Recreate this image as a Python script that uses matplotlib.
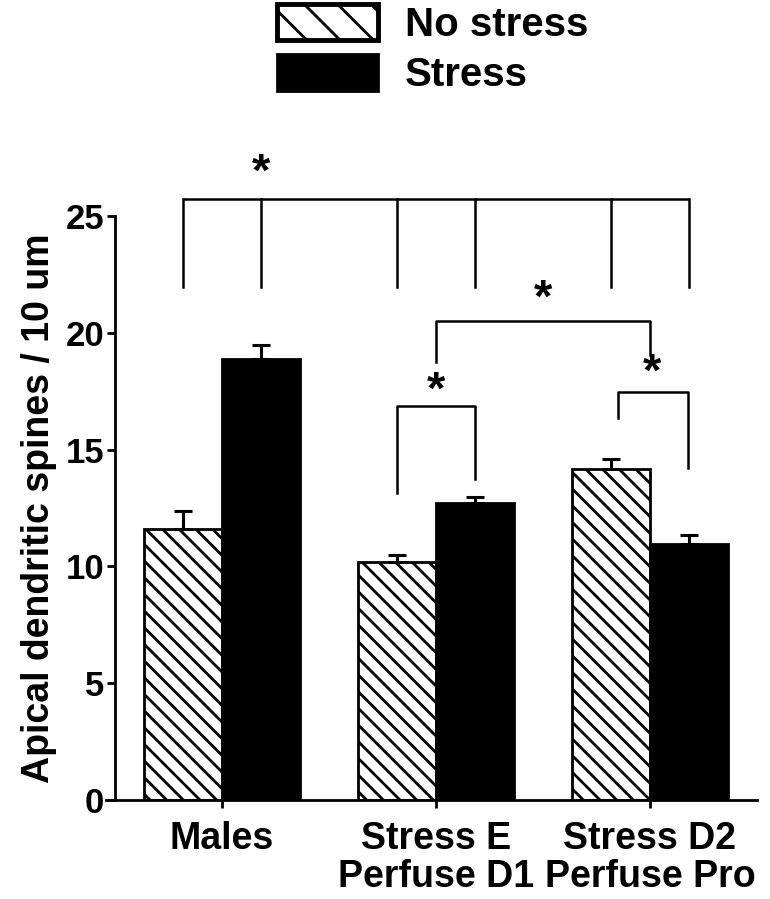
import matplotlib
matplotlib.use("Agg")
import matplotlib.pyplot as plt
from matplotlib.patches import Patch

plt.rcParams['font.family'] = ['Liberation Sans', 'DejaVu Sans']
plt.rcParams['font.weight'] = 'bold'
plt.rcParams['hatch.linewidth'] = 2.0

# ---- data ----
groups = ["Males", "Stress E\nPerfuse D1", "Stress D2\nPerfuse Pro"]
series_labels = ["No stress", "Stress"]
no_stress = [11.6, 10.2, 14.15]
no_stress_err = [0.77, 0.3, 0.45]
stress = [18.88, 12.7, 10.96]
stress_err = [0.6, 0.27, 0.4]
yticks = [0, 5, 10, 15, 20, 25]

# significance brackets: (x_left, x_right, y_top, y_left_end, y_right_end, star_x, star_y)
brackets = [
    (1.0, 2.0, 20.5, 18.75, 19.05, 1.5, 21.4),
    (0.8175, 1.1825, 16.87, 13.14, 13.74, 1.0, 17.5),
    (1.85, 2.18, 17.47, 16.35, 14.21, 2.01, 18.24),
]
# top bracket with legs at every bar centre
top_legs_offsets = [-0.1825, 0.1825]
top_y, top_leg_end = 25.75, 21.95
top_star = (0.1825, 26.8)

w = 0.365

fig = plt.figure(figsize=(7.7, 8.99), dpi=100)
ax = fig.add_axes([0.1494, 0.1101, 0.8336, 0.6496])

xs = list(range(len(groups)))
x_ns = [x - w / 2 for x in xs]
x_s = [x + w / 2 for x in xs]

ax.bar(x_ns, no_stress, width=w, color='white', edgecolor='black',
       linewidth=2, hatch='\\\\', label=series_labels[0], zorder=2)
ax.bar(x_s, stress, width=w, color='black', edgecolor='black',
       linewidth=2, label=series_labels[1], zorder=2)
ax.errorbar(x_ns, no_stress, yerr=[[0]*3, no_stress_err], fmt='none',
            ecolor='black', elinewidth=2.2, capsize=6.5, capthick=2.2, zorder=3)
ax.errorbar(x_s, stress, yerr=[[0]*3, stress_err], fmt='none',
            ecolor='black', elinewidth=2.2, capsize=6.5, capthick=2.2, zorder=3)

lw_b = 1.8
# top bracket
leg_xs = [x + o for x in xs for o in top_legs_offsets]
ax.plot([leg_xs[0], leg_xs[-1]], [top_y, top_y], color='black', lw=lw_b, clip_on=False,
        solid_capstyle='butt')
for lx in leg_xs:
    ax.plot([lx, lx], [top_y, top_leg_end], color='black', lw=lw_b, clip_on=False)
ax.text(top_star[0], top_star[1], '*', ha='center', va='center', fontsize=34,
        fontweight='bold', clip_on=False)

for (xl, xr, yt, yl, yr, sx, sy) in brackets:
    ax.plot([xl, xl, xr, xr], [yl, yt, yt, yr], color='black', lw=lw_b, clip_on=False)
    ax.text(sx, sy, '*', ha='center', va='center', fontsize=34, fontweight='bold',
            clip_on=False)

ax.set_xlim(-0.5, 2.5)
ax.set_ylim(0, 25)
ax.set_yticks(yticks)
ax.set_xticks(xs)
ax.set_xticklabels(groups, fontsize=27, fontweight='bold', linespacing=1.08)
ax.tick_params(axis='y', labelsize=25, direction='out', length=6, width=2, pad=2)
ax.tick_params(axis='x', direction='out', length=6, width=2, pad=9)
for lab in ax.get_yticklabels():
    lab.set_fontweight('bold')
ax.spines['top'].set_visible(False)
ax.spines['right'].set_visible(False)
ax.spines['left'].set_linewidth(2)
ax.spines['bottom'].set_linewidth(2)
ax.spines['bottom'].set_bounds(-0.54, 2.5)
ax.set_ylabel('Apical dendritic spines / 10 um', fontsize=27, fontweight='bold', labelpad=6)

handles = [Patch(facecolor='white', edgecolor='black', hatch='\\', linewidth=3.5),
           Patch(facecolor='black', edgecolor='black', linewidth=2)]
fig.legend(handles, series_labels, loc='upper left', bbox_to_anchor=(0.36, 0.996),
           frameon=False, handlelength=2.5, handleheight=1.03,
           handletextpad=0.67, labelspacing=0.25, borderpad=0, borderaxespad=0,
           prop={'weight': 'bold', 'size': 29})

fig.savefig('out.png', dpi=100)
